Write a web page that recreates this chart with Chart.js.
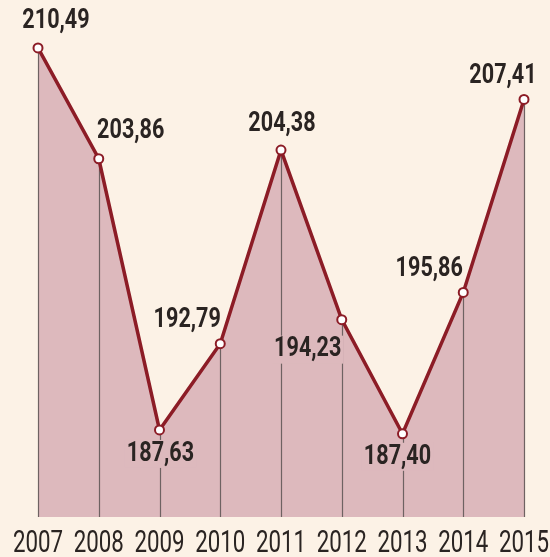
<!DOCTYPE html>
<html>
<head>
<meta charset="utf-8">
<script src="https://cdn.jsdelivr.net/npm/chart.js@4/dist/chart.umd.min.js"></script>
<style>
  html, body { margin: 0; padding: 0; background: #fcf2e6; }
  #wrap { width: 550px; height: 557px; position: relative; }
</style>
</head>
<body>
<div id="wrap"><canvas id="c"></canvas></div>
<script>
const years = ['2007', '2008', '2009', '2010', '2011', '2012', '2013', '2014', '2015'];
const values = [210.49, 203.86, 187.63, 192.79, 204.38, 194.23, 187.40, 195.86, 207.41];
const valueLabels = ['210,49', '203,86', '187,63', '192,79', '204,38', '194,23', '187,40', '195,86', '207,41'];

const FONT = "Roboto, 'DejaVu Sans', sans-serif";
const FILL = '#ddb9bd';
const BG = '#fcf2e6';
const LINE = '#8c1c26';
const GRID = '#6e6262';
const TEXT = '#2a2422';

// label offsets relative to each point (style only)
const labelOffsets = [[18, -27], [32, -27], [1, 24], [-33, -23], [1, -26], [-34, 30], [-5, 23], [-34, -23], [-21, -23]];

function drawNarrow(ctx, txt, x, y, sx) {
  ctx.save();
  ctx.translate(x, y);
  ctx.scale(sx, 1);
  ctx.fillText(txt, 0, 0);
  ctx.restore();
}

const dropLines = {
  id: 'dropLines',
  beforeDatasetDraw(chart) {
    const ctx = chart.ctx;
    const meta = chart.getDatasetMeta(0);
    const bottom = chart.chartArea.bottom;
    ctx.save();
    ctx.strokeStyle = GRID;
    ctx.lineWidth = 1.2;
    meta.data.forEach(pt => {
      const x = Math.round(pt.x) + 0.5;
      ctx.beginPath();
      ctx.moveTo(x, bottom);
      ctx.lineTo(x, pt.y);
      ctx.stroke();
    });
    ctx.restore();
  }
};

const textPlugin = {
  id: 'texts',
  afterDatasetsDraw(chart) {
    const ctx = chart.ctx;
    const meta = chart.getDatasetMeta(0);
    const xs = chart.scales.x;
    ctx.save();
    // value labels
    ctx.font = 'bold 27px ' + FONT;
    ctx.textAlign = 'center';
    ctx.textBaseline = 'middle';
    const sxL = 0.8;
    meta.data.forEach((pt, i) => {
      const [dx, dy] = labelOffsets[i];
      const x = pt.x + dx, y = pt.y + dy;
      const txt = valueLabels[i];
      if (dy > 0) {
        const w = ctx.measureText(txt).width * sxL;
        ctx.fillStyle = FILL;
        ctx.fillRect(x - w / 2 - 2, y - 14, w + 4, 28);
      }
      ctx.fillStyle = TEXT;
      drawNarrow(ctx, txt, x, y, sxL);
    });
    // category labels
    ctx.font = '31px ' + FONT;
    ctx.textBaseline = 'alphabetic';
    ctx.fillStyle = TEXT;
    years.forEach((yr, i) => {
      drawNarrow(ctx, yr, xs.getPixelForValue(i), chart.chartArea.bottom + 35, 0.72);
    });
    ctx.restore();
  }
};

new Chart(document.getElementById('c'), {
  type: 'line',
  data: {
    labels: years,
    datasets: [{
      data: values,
      borderColor: LINE,
      borderWidth: 3.5,
      backgroundColor: FILL,
      fill: 'start',
      tension: 0,
      pointRadius: 4.5,
      pointBorderWidth: 2,
      pointBackgroundColor: '#ffffff',
      pointBorderColor: LINE,
      clip: false
    }]
  },
  options: {
    responsive: true,
    maintainAspectRatio: false,
    animation: false,
    layout: { autoPadding: false, padding: { left: 38, right: 26, top: 0, bottom: 40 } },
    plugins: {
      legend: { display: false },
      tooltip: { enabled: false },
      filler: { drawTime: 'beforeDatasetsDraw' }
    },
    scales: {
      x: { display: false, offset: false },
      y: { display: false, min: 182.42, max: 213.36 }
    }
  },
  plugins: [dropLines, textPlugin]
});
</script>
</body>
</html>
